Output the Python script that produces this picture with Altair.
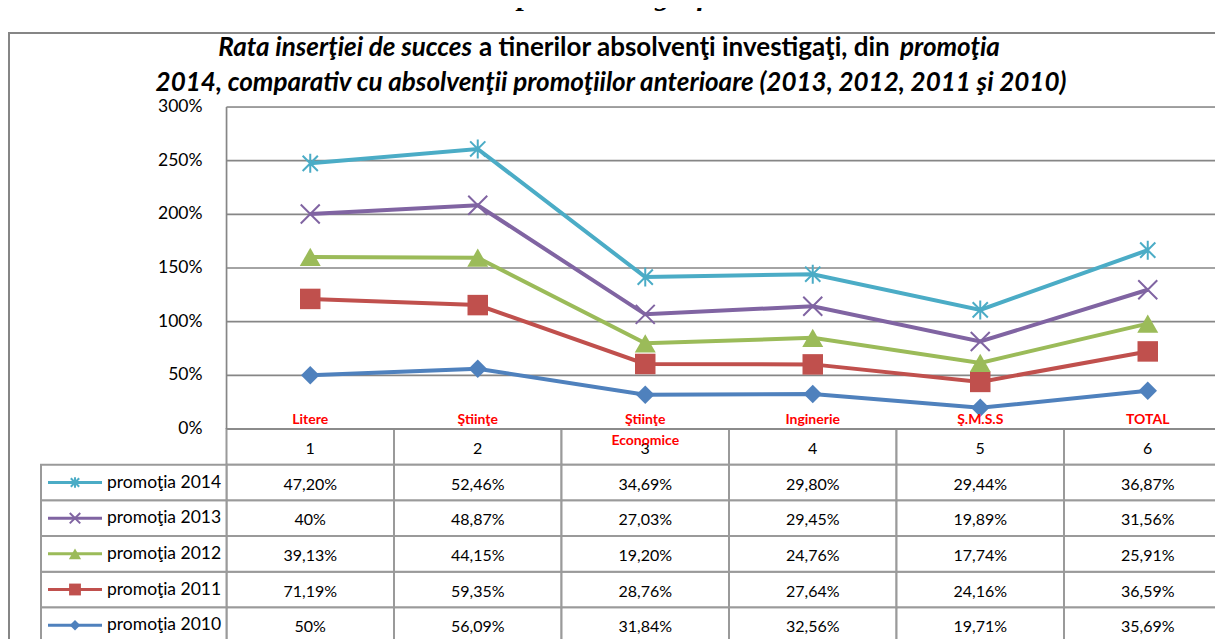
import altair as alt
import pandas as pd

# ---------------- data ----------------
categories = [1, 2, 3, 4, 5, 6]
cat_line1 = ["Litere", "Ştiinţe", "Ştiinţe", "Inginerie", "Ş.M.S.S", "TOTAL"]
cat_line2 = ["", "", "Economice", "", "", ""]
series_names = ["promoţia 2010", "promoţia 2011", "promoţia 2012", "promoţia 2013", "promoţia 2014"]
v2010 = [50.00, 56.09, 31.84, 32.56, 19.71, 35.69]
v2011 = [71.19, 59.35, 28.76, 27.64, 24.16, 36.59]
v2012 = [39.13, 44.15, 19.20, 24.76, 17.74, 25.91]
v2013 = [40.00, 48.87, 27.03, 29.45, 19.89, 31.56]
v2014 = [47.20, 52.46, 34.69, 29.80, 29.44, 36.87]
series_values = [v2010, v2011, v2012, v2013, v2014]
y_ticks = [0, 50, 100, 150, 200, 250, 300]

heading = "Reprezentare grafică"
title1_a = "Rata inserţiei de succes"
title1_b = "a tinerilor absolvenţi investigaţi, din"
title1_c = "promoţia"
title2 = "2014, comparativ cu absolvenţii promoţiilor anterioare (2013, 2012, 2011 şi 2010)"

# ---------------- styles / geometry ----------------
series_colors = ["#4F81BD", "#C0504D", "#9BBB59", "#8064A2", "#4BACC6"]
X_PATH = "M-1,-1L1,1M-1,1L1,-1"
STAR_PATH = "M0,-1L0,1M-0.8,-0.8L0.8,0.8M-0.8,0.8L0.8,-0.8"
series_shapes = ["diamond", "square", "triangle-up", X_PATH, STAR_PATH]
series_sizes = [340, 420, 440, 361, 361]
legend_sizes = [110, 140, 150, 110, 110]
series_filled = [True, True, True, False, False]
FONT = "Lato"
GRID = "#868686"
TABLE = "#9a9a9a"

OX, OY = 226.5, 107          # plot-area origin on the page
PLOT_W, PLOT_H = 1005, 322   # line-chart area (extends past the page on the right)
VIEW_W = 1207 - (OX - 8)     # visible width
VIEW_H = 631 - (OY - 8)      # visible height (plot + table)
ROW_TOP, ROW_BOT = PLOT_H, PLOT_H + 214


def fmt(v):
    if float(v).is_integer():
        return f"{int(v)}%"
    return f"{v:.2f}".replace(".", ",") + "%"


rows = []
for k, (name, vals) in enumerate(zip(series_names, series_values)):
    for c, v in zip(categories, vals):
        rows.append({"cat": c, "series": name, "order": k, "value": v, "label": fmt(v)})
df = pd.DataFrame(rows)
cat_df = pd.DataFrame({"cat": categories, "l1": cat_line1, "l2": cat_line2})
one = pd.DataFrame({"a": [0]})
tick_df = pd.DataFrame({"t": y_ticks})

x_scale = alt.Scale(domain=[0.5, 6.5], range=[0, PLOT_W], nice=False, zero=False)
y_scale = alt.Scale(domain=[0, 300], range=[PLOT_H, 0], nice=False, zero=False)
color = alt.Color("series:N", scale=alt.Scale(domain=series_names, range=series_colors), legend=None)

X = alt.X("cat:Q", scale=x_scale, axis=None)
Yn = alt.Y("y1:Q", scale=y_scale, axis=None)

# value axis: gridlines, labels and left border from the tick list, through the scales
ticks = alt.Chart(tick_df).transform_calculate(
    xa="0.5", xb="6.5", lbl="datum.t + '%'", y1="datum.t")
grid = ticks.mark_rule(color=GRID, strokeWidth=1.6).encode(
    y=Yn, x=alt.X("xa:Q", scale=x_scale, axis=None), x2="xb:Q")
ylabels = ticks.mark_text(font=FONT, fontSize=17.5, color="#000", align="right",
                          baseline="middle", dx=-24).encode(
    y=Yn, x=alt.X("xa:Q", scale=x_scale, axis=None), text="lbl:N")
yline = alt.Chart(one).transform_calculate(xa="0.5", y1="0", ya="300").mark_rule(
    color=GRID, strokeWidth=1.6).encode(
    x=alt.X("xa:Q", scale=x_scale, axis=None), y=Yn, y2="ya:Q")

stacked = alt.Chart(df).transform_stack(
    stack="value", groupby=["cat"], sort=[alt.SortField("order", order="ascending")], as_=["y0", "y1"]
)

lines = stacked.mark_line(strokeWidth=4).encode(x=X, y=Yn, color=color, order="cat:Q")

point_layers = []
for name, shp, sz, fl, col in zip(series_names, series_shapes, series_sizes, series_filled, series_colors):
    point_layers.append(
        stacked.transform_filter(alt.datum.series == name)
        .mark_point(shape=shp, size=sz, filled=fl, opacity=1, color=col, strokeWidth=(0 if fl else 2))
        .encode(x=X, y=Yn)
    )

lab_kw = dict(color="#FF0000", fontWeight="bold", fontSize=14, font=FONT, baseline="middle")
cats = alt.Chart(cat_df).transform_calculate(y1="0")
lab1 = cats.mark_text(dy=-9, **lab_kw).encode(x=X, y=Yn, text="l1:N")
lab2 = cats.mark_text(dy=12, **lab_kw).encode(x=X, y=Yn, text="l2:N")

t_kw = dict(font=FONT, fontSize=26, fontWeight="bold", baseline="middle", color="#000")
t1a = alt.Chart(one).mark_text(text=title1_a, fontStyle="italic", align="right", **t_kw).encode(
    x=alt.value(472 - OX), y=alt.value(48 - OY))
t1b = alt.Chart(one).mark_text(text=title1_b, align="left", **t_kw).encode(
    x=alt.value(479 - OX), y=alt.value(48 - OY))
t1c = alt.Chart(one).mark_text(text=title1_c, fontStyle="italic", align="left", **t_kw).encode(
    x=alt.value(900 - OX), y=alt.value(48 - OY))
t2 = alt.Chart(one).mark_text(text=title2, fontStyle="italic", align="center", **t_kw).encode(
    x=alt.value(611 - OX), y=alt.value(83 - OY))
head = alt.Chart(one).mark_text(text=heading, font="Liberation Serif", fontSize=30, fontWeight="bold",
                                fontStyle="italic", align="center", baseline="alphabetic").encode(
    x=alt.value(614 - OX), y=alt.value(5 - OY))

border = alt.Chart(one).mark_rect(fill="white", fillOpacity=0, stroke=GRID, strokeWidth=2).encode(
    x=alt.value(9 - OX), x2=alt.value(1300 - OX), y=alt.value(33 - OY), y2=alt.value(700 - OY))

plot_part = alt.layer(border, grid, yline, ylabels, lines, *point_layers, lab1, lab2,
                      t1a, t1b, t1c, t2, head)

# ---------------- table ----------------
row_domain = ["hdr"] + series_names[::-1]
row_scale = alt.Scale(domain=row_domain, range=[ROW_TOP, ROW_BOT], paddingInner=0, paddingOuter=0)
hdr_df = pd.DataFrame({"cat": categories, "row": ["hdr"] * 6, "label": [str(c) for c in categories]})
val_df = df.assign(row=df["series"])[["cat", "row", "label"]]
cells_df = pd.concat([hdr_df, val_df], ignore_index=True)

TY = alt.Y("row:N", scale=row_scale, axis=None)

cells = alt.Chart(cells_df).transform_calculate(x0="datum.cat - 0.5", x1="datum.cat + 0.5").mark_rect(
    fill="white", stroke=TABLE, strokeWidth=2).encode(
    x=alt.X("x0:Q", scale=x_scale, axis=None), x2="x1:Q", y=TY)
cell_text = alt.Chart(cells_df).mark_text(font=FONT, fontSize=16, color="#000", dy=2).encode(
    x=alt.X("cat:Q", scale=x_scale, axis=None), y=TY, text="label:N")

leg_df = pd.DataFrame({"series": series_names, "row": series_names})
leg_cells = alt.Chart(leg_df).mark_rect(fill="white", stroke=TABLE, strokeWidth=2).encode(
    x=alt.value(41 - OX), x2=alt.value(0), y=TY)
leg_rules = alt.Chart(leg_df).mark_rule(strokeWidth=3).encode(
    x=alt.value(48 - OX), x2=alt.value(102 - OX), y=TY, color=color)
leg_pts = []
for name, shp, sz, fl, col in zip(series_names, series_shapes, legend_sizes, series_filled, series_colors):
    leg_pts.append(
        alt.Chart(leg_df).transform_filter(alt.datum.series == name)
        .mark_point(shape=shp, size=sz, filled=fl, opacity=1, color=col, strokeWidth=(0 if fl else 2))
        .encode(x=alt.value(75 - OX), y=TY)
    )
leg_text = alt.Chart(leg_df).mark_text(font=FONT, fontSize=17.5, align="left", color="#000").encode(
    x=alt.value(107 - OX), y=TY, text="series:N")

table_part = alt.layer(cells, cell_text, leg_cells, leg_rules, *leg_pts, leg_text)

chart = alt.layer(table_part, plot_part).resolve_scale(y="independent").properties(
    width=VIEW_W, height=VIEW_H,
    autosize=alt.AutoSizeParams(type="none"),
    padding={"left": OX - 8, "top": OY - 8, "right": 0, "bottom": 0},
).configure_view(stroke=None).configure(font=FONT)

chart.save("out.html", embed_options={"renderer": "svg", "actions": False})
